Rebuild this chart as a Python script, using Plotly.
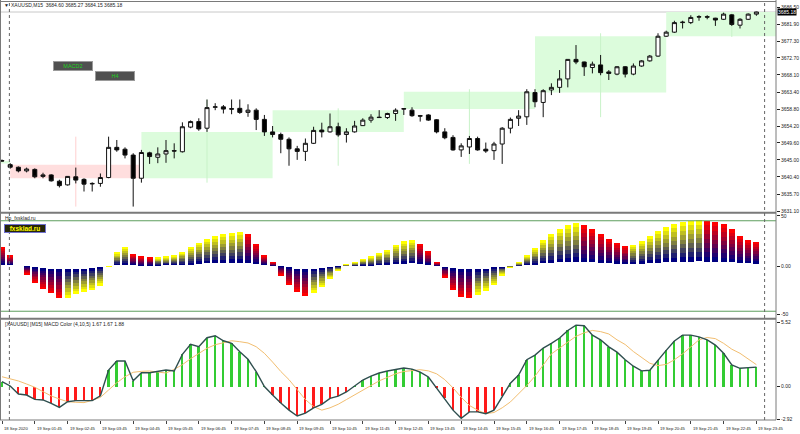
import plotly.graph_objects as go

# ---------------- data ----------------
opens = [3644.8, 3643.7, 3643.0, 3642.0, 3642.4, 3640.5, 3640.9, 3639.2, 3638.2, 3640.4,
         3639.7, 3638.6, 3638.6, 3640.2, 3648.4, 3647.9, 3646.3, 3640.0, 3646.9, 3645.7,
         3646.6, 3647.5, 3647.2, 3653.9, 3655.4, 3653.6, 3659.3, 3659.4, 3658.9, 3659.0,
         3657.9, 3658.5, 3656.0, 3652.6, 3651.9, 3650.6, 3648.0, 3647.3, 3649.5, 3653.1,
         3652.6, 3654.0, 3651.9, 3652.6, 3654.3, 3655.8, 3656.6, 3656.5, 3657.6, 3658.8,
         3658.5, 3657.0, 3657.2, 3655.9, 3652.6, 3651.1, 3647.7, 3648.5, 3650.8, 3647.9,
         3647.5, 3649.3, 3653.6, 3656.3, 3656.7, 3663.3, 3660.6, 3664.0, 3664.7, 3667.0,
         3672.3, 3671.6, 3670.1, 3670.8, 3668.9, 3668.3, 3670.3, 3668.3, 3670.5, 3671.9,
         3673.2, 3678.6, 3679.7, 3682.3, 3682.3, 3683.8, 3683.9, 3683.5, 3683.2, 3684.4,
         3681.6, 3683.2, 3684.60]
highs = [3645.1, 3644.1, 3643.2, 3642.9, 3642.7, 3641.5, 3641.1, 3639.6, 3640.6, 3642.9,
         3640.0, 3638.9, 3641.3, 3651.3, 3650.4, 3648.4, 3646.8, 3647.7, 3647.2, 3648.4,
         3650.4, 3649.5, 3655.2, 3655.7, 3656.3, 3661.4, 3660.4, 3659.9, 3661.4, 3661.4,
         3660.1, 3659.0, 3657.2, 3654.2, 3652.4, 3651.1, 3648.8, 3650.8, 3654.0, 3655.1,
         3657.6, 3655.1, 3653.6, 3655.6, 3656.3, 3657.4, 3658.5, 3657.8, 3659.0, 3659.0,
         3659.3, 3657.2, 3657.4, 3656.1, 3653.6, 3651.7, 3649.5, 3651.5, 3651.3, 3649.7,
         3649.9, 3653.9, 3656.5, 3658.5, 3664.2, 3664.2, 3664.2, 3665.8, 3669.4, 3672.4,
         3676.2, 3671.7, 3671.7, 3673.5, 3669.4, 3670.5, 3670.5, 3671.2, 3672.1, 3673.5,
         3679.4, 3680.1, 3682.8, 3682.8, 3684.3, 3684.3, 3684.3, 3683.6, 3685.0, 3684.6,
         3683.5, 3684.8, 3685.27]
lows = [3644.5, 3642.6, 3641.6, 3641.6, 3640.0, 3640.0, 3639.1, 3637.5, 3638.0, 3638.6,
        3636.4, 3636.4, 3637.7, 3640.0, 3647.2, 3645.4, 3632.3, 3638.8, 3643.9, 3644.1,
        3644.2, 3645.4, 3647.0, 3653.6, 3652.9, 3652.6, 3658.5, 3657.6, 3657.4, 3657.5,
        3656.7, 3653.1, 3651.5, 3651.1, 3646.8, 3643.4, 3645.0, 3644.7, 3649.3, 3651.1,
        3652.4, 3651.3, 3649.7, 3652.4, 3654.2, 3655.1, 3656.4, 3656.1, 3655.6, 3657.2,
        3656.7, 3655.4, 3655.6, 3652.2, 3650.6, 3647.5, 3645.8, 3646.6, 3647.5, 3646.9,
        3645.0, 3643.9, 3652.2, 3654.2, 3654.5, 3659.3, 3656.6, 3662.6, 3663.2, 3664.7,
        3671.0, 3667.8, 3668.5, 3668.0, 3666.7, 3668.0, 3667.4, 3668.0, 3670.3, 3671.7,
        3673.0, 3678.4, 3679.5, 3680.7, 3681.9, 3682.8, 3683.2, 3681.4, 3683.0, 3681.4,
        3680.7, 3683.0, 3684.15]
closes = [3644.7, 3643.0, 3642.0, 3642.5, 3640.4, 3640.9, 3639.3, 3638.0, 3640.5, 3639.5,
          3638.4, 3638.5, 3640.2, 3648.4, 3647.7, 3646.3, 3640.0, 3647.0, 3645.9, 3646.6,
          3647.5, 3647.4, 3654.0, 3655.4, 3653.4, 3659.2, 3659.4, 3658.8, 3658.8, 3657.9,
          3658.5, 3656.0, 3652.6, 3651.9, 3650.6, 3648.0, 3647.3, 3649.5, 3653.0, 3652.6,
          3654.0, 3651.8, 3652.6, 3654.2, 3655.8, 3656.6, 3656.5, 3657.6, 3658.5, 3658.9,
          3657.0, 3656.9, 3655.8, 3652.6, 3651.0, 3647.7, 3648.8, 3650.8, 3647.7, 3647.4,
          3649.3, 3653.6, 3656.0, 3656.9, 3663.5, 3660.8, 3663.8, 3664.7, 3667.0, 3672.3,
          3671.6, 3670.3, 3671.0, 3668.7, 3668.5, 3670.3, 3668.3, 3670.5, 3671.9, 3673.2,
          3678.6, 3679.7, 3682.3, 3682.4, 3683.7, 3683.9, 3683.8, 3683.0, 3684.6, 3681.8,
          3683.2, 3684.6, 3685.18]
prev_h4_open = 3644.0  # open of the H4 candle ending at the first visible bar

# Hp_fxsklad histogram (separate window, scale -50..50)
hp_vals = [18.3, 10.6, 0.0, -7.7, -16.1, -22.1, -26.3, -31.1, -30.8, -27.2,
           -24.7, -23.1, -18.9, -0.8, 13.2, 18.6, 11.5, 8.9, 8.0, 8.2,
           9.6, 10.6, 13.8, 18.6, 22.4, 26.0, 28.8, 30.8, 31.7, 32.7,
           30.8, 21.0, 10.6, 3.8, -8.7, -18.3, -25.0, -28.8, -26.0, -20.0,
           -12.5, -4.8, 1.9, 3.8, 6.7, 8.7, 12.5, 15.4, 20.2, 24.0,
           25.0, 21.0, 14.4, 3.8, -11.5, -23.0, -29.8, -30.8, -27.9, -24.0,
           -18.3, -9.6, -1.9, 3.8, 10.6, 17.3, 25.0, 30.8, 35.6, 39.4,
           41.3, 39.4, 35.6, 30.8, 26.0, 22.1, 19.2, 20.2, 24.0, 28.8,
           33.7, 37.5, 40.4, 42.3, 43.3, 44.2, 43.3, 42.3, 40.4, 35.6,
           29.1, 25.0, 23.4]
hp_levels = [43.5, -43.5]

# MACD Color (4,10,5)
macd_vals = [0.43, 0.06, -0.62, -0.71, -1.08, -1.13, -1.42, -1.76, -1.28, -1.19,
             -1.19, -1.19, -0.77, 1.42, 2.19, 2.19, 0.51, 1.19, 1.19, 1.28,
             1.42, 1.34, 2.76, 3.62, 3.41, 4.18, 4.35, 3.92, 3.70, 2.99,
             2.34, 1.28, 0.02, -0.70, -1.40, -2.00, -2.50, -2.25, -1.80, -1.50,
             -1.00, -0.80, -0.45, 0.06, 0.57, 0.90, 1.17, 1.34, 1.50, 1.60,
             1.50, 1.25, 0.83, -0.10, -1.00, -2.00, -2.70, -2.15, -2.15, -2.30,
             -2.00, -0.80, 0.30, 1.00, 2.30, 2.70, 3.30, 3.70, 4.15, 4.80,
             5.25, 5.20, 4.40, 4.00, 3.40, 2.95, 2.30, 1.75, 1.35, 1.40,
             2.30, 3.10, 3.90, 4.40, 4.40, 4.25, 4.00, 3.55, 2.85, 1.85,
             1.57, 1.62, 1.67]
signal_vals = [0.85, 0.66, 0.49, 0.23, -0.05, -0.42, -0.79, -1.05, -1.28, -1.33,
               -1.36, -1.16, -0.91, -0.28, 0.34, 0.85, 1.23, 1.31, 1.34, 1.25,
               1.17, 1.48, 1.88, 2.39, 2.82, 3.28, 3.58, 3.75, 3.92, 3.84,
               3.73, 3.41, 2.85, 2.10, 1.30, 0.60, -0.30, -1.10, -1.70, -2.00,
               -1.80, -1.50, -1.10, -0.70, -0.30, 0.05, 0.50, 0.80, 1.10, 1.30,
               1.40, 1.45, 1.35, 1.10, 0.60, -0.10, -0.90, -1.60, -2.00, -2.30,
               -2.20, -1.80, -1.30, -0.60, 0.10, 0.90, 1.90, 2.80, 3.30, 3.80,
               4.30, 4.60, 4.80, 4.70, 4.50, 4.00, 3.60, 3.00, 2.50, 2.00,
               1.80, 1.90, 2.30, 2.80, 3.40, 4.00, 4.20, 4.10, 3.70, 3.20,
               2.85, 2.35, 1.88]

time_labels = ["18 Sep 2020", "19 Sep 01:45", "19 Sep 02:45", "19 Sep 03:45", "19 Sep 04:45",
               "19 Sep 05:45", "19 Sep 06:45", "19 Sep 07:45", "19 Sep 08:45", "19 Sep 09:45",
               "19 Sep 10:45", "19 Sep 11:45", "19 Sep 12:45", "19 Sep 13:45", "19 Sep 14:45",
               "19 Sep 15:45", "19 Sep 16:45", "19 Sep 17:45", "19 Sep 18:45", "19 Sep 19:45",
               "19 Sep 20:45", "19 Sep 21:45", "19 Sep 22:45", "19 Sep 23:45"]
price_ticks = [3686.50, 3681.90, 3677.30, 3672.70, 3668.10, 3663.40, 3658.80,
               3654.20, 3649.60, 3645.00, 3640.40, 3635.70, 3631.10]

title_text = "XAUUSD,M15  3684.60 3685.27 3684.15 3685.18"
macd_title = "[XAUUSD] [M15] MACD Color (4,10,5) 1.67 1.67 1.88"

# ---------------- geometry helpers ----------------
W, H = 800, 434
PLOT_W, PLOT_H = 776, 420
n = len(closes)
idx = list(range(n))
XR = [-0.244, 94.39]


def py(p):
    return (PLOT_H - p) / PLOT_H


def px(p):
    return p / PLOT_W


FONT = "Liberation Sans"
fig = go.Figure()

# ---------------- main panel: candles ----------------
fig.add_trace(go.Candlestick(
    x=idx, open=opens, high=highs, low=lows, close=closes,
    increasing=dict(fillcolor="white", line=dict(color="#111111", width=1)),
    decreasing=dict(fillcolor="black", line=dict(color="#111111", width=1)),
    whiskerwidth=0, xaxis="x", yaxis="y", showlegend=False, hoverinfo="skip"))

shapes = []
# H4 candles as rectangles
groups = [(-15, 0, prev_h4_open, None, None, closes[0])]
start = 1
while start < n:
    end = min(start + 15, n - 1)
    seg = range(start, end + 1)
    groups.append((start, end, opens[start], max(highs[s] for s in seg),
                   min(lows[s] for s in seg), closes[end]))
    start += 16
for (s, e, o, h, l, c) in groups:
    bull = c >= o
    fill = "#DCFCDC" if bull else "#FFDEDE"
    wick = "#C8F2C8" if bull else "#FFCFCF"
    shapes.append(dict(type="rect", xref="x", yref="y", x0=s, x1=s + 16,
                       y0=min(o, c), y1=max(o, c), fillcolor=fill,
                       line=dict(width=0), layer="below"))
    if h is not None:
        shapes.append(dict(type="line", xref="x", yref="y", x0=s + 8, x1=s + 8,
                           y0=l, y1=h, line=dict(color=wick, width=1), layer="below"))

# bid line
shapes.append(dict(type="line", xref="paper", yref="y", x0=0, x1=1,
                   y0=closes[-1], y1=closes[-1], line=dict(color="#C8C8C8", width=1),
                   layer="below"))

# ---------------- middle panel: gradient histogram ----------------
N = 10
navy = (0, 0, 128)
ends = []
for i, v in enumerate(hp_vals):
    rising = i > 0 and v > hp_vals[i - 1]
    ends.append((255, 255, 0) if rising else (255, 0, 0))
for k in range(1, N):
    t = (k - 1) / (N - 2)
    cols = []
    for e in ends:
        r = round(navy[0] + (e[0] - navy[0]) * t)
        g = round(navy[1] + (e[1] - navy[1]) * t)
        b = round(navy[2] + (e[2] - navy[2]) * t)
        cols.append(f"rgb({r},{g},{b})")
    fig.add_trace(go.Bar(
        x=idx, y=[v / N for v in hp_vals], base=[v * k / N for v in hp_vals],
        width=0.72, marker=dict(color=cols, line=dict(width=0)),
        xaxis="x", yaxis="y2", showlegend=False, hoverinfo="skip"))
for lv in hp_levels:
    shapes.append(dict(type="line", xref="paper", yref="y2", x0=0, x1=1,
                       y0=lv, y1=lv, line=dict(color="#5E9E5E", width=1)))

# ---------------- bottom panel: MACD ----------------
fig.add_trace(go.Bar(
    x=idx, y=macd_vals, width=0.24,
    marker=dict(color=["#33CC33" if v >= 0 else "#FF1A1A" for v in macd_vals],
                line=dict(width=0)),
    xaxis="x", yaxis="y3", showlegend=False, hoverinfo="skip"))
fig.add_trace(go.Scatter(
    x=idx, y=signal_vals, mode="lines", line=dict(color="#F2BE70", width=1),
    xaxis="x", yaxis="y3", showlegend=False, hoverinfo="skip"))
fig.add_trace(go.Scatter(
    x=idx, y=macd_vals, mode="lines", line=dict(color="#2F4F4F", width=1.4),
    xaxis="x", yaxis="y3", showlegend=False, hoverinfo="skip"))

# ---------------- frame lines ----------------
grey = "#7A7A7A"
for yy, wdt in [(1.5, 1), (212.8, 2), (318.8, 2), (420, 1)]:
    shapes.append(dict(type="line", xref="paper", yref="paper", x0=0, x1=1,
                       y0=py(yy), y1=py(yy), line=dict(color=grey, width=wdt)))
shapes.append(dict(type="line", xref="paper", yref="paper", x0=px(0.5), x1=px(0.5),
                   y0=py(0), y1=py(420), line=dict(color=grey, width=1)))
shapes.append(dict(type="line", xref="paper", yref="paper", x0=1, x1=1,
                   y0=py(0), y1=py(420), line=dict(color=grey, width=1)))
# dotted vertical lines
for xv in [0.9, 93.0]:
    shapes.append(dict(type="line", xref="x", yref="paper", x0=xv, x1=xv,
                       y0=py(420), y1=py(0), line=dict(color="#666666", width=1, dash="dot")))

# ---------------- annotations ----------------
ann = []
small = dict(family=FONT, size=5, color="#222222")


def note(text, x, y, font, xanchor="left", **kw):
    d = dict(text=text, x=x, y=y, xref="paper", yref="paper", xanchor=xanchor,
             yanchor="middle", showarrow=False, font=font)
    d.update(kw)
    ann.append(d)


note("▼", px(1.5), py(5.5), dict(family=FONT, size=5, color="#222"))
note(title_text, px(9), py(5.5), small)
btn = dict(width=38, height=8, bgcolor="#505050", bordercolor="#9A9A9A",
           borderwidth=1, borderpad=0)
note("MACD2", px(73), py(66), dict(family=FONT, size=5.5, color="#1ED21E"),
     xanchor="center", **btn)
note("H4", px(114.5), py(76), dict(family=FONT, size=5.5, color="#1ED21E"),
     xanchor="center", **btn)
note("Hp_fxsklad.ru", px(3), py(218), small)
note("<b>fxsklad.ru</b>", px(25), py(228.5), dict(family=FONT, size=6.5, color="#FFFF00"),
     xanchor="center", width=40, height=7, bgcolor="#26260A", bordercolor="#7070D0",
     borderwidth=1, borderpad=0)
note(macd_title, px(3), py(324), small)
# current price badge
ann.append(dict(text=f"{closes[-1]:.2f}", x=1, y=closes[-1], xref="paper", yref="y",
                xanchor="left", yanchor="middle", xshift=1, showarrow=False,
                bgcolor="#000000", borderpad=0,
                font=dict(family=FONT, size=5, color="#FFFFFF")))
# time labels
for j, lab in enumerate(time_labels):
    ann.append(dict(text=lab, x=j * 4, y=py(428), xref="x", yref="paper",
                    xanchor="left", yanchor="middle", showarrow=False,
                    font=dict(family=FONT, size=4.2, color="#222222")))

axis_common = dict(showgrid=False, zeroline=False, side="right", anchor="x",
                   ticks="outside", ticklen=3, tickcolor="#222", tickwidth=1,
                   tickfont=dict(family=FONT, size=5, color="#222222"),
                   showline=False, fixedrange=True)

fig.update_layout(
    width=W, height=H, margin=dict(l=0, r=24, t=0, b=14, autoexpand=False),
    paper_bgcolor="white", plot_bgcolor="white", barmode="overlay", bargap=0,
    showlegend=False, shapes=shapes, annotations=ann,
    xaxis=dict(domain=[0, 1], range=XR, anchor="y3", showgrid=False, zeroline=False,
               showticklabels=False, ticks="outside", ticklen=3, tickcolor="#444",
               tickvals=[j * 4 for j in range(len(time_labels))],
               rangeslider=dict(visible=False), showline=False, fixedrange=True),
    yaxis=dict(domain=[py(212), py(1)], range=[3630.83, 3688.17],
               tickvals=price_ticks, ticktext=[f"{v:.2f}" for v in price_ticks],
               **axis_common),
    yaxis2=dict(domain=[py(318), py(214)], range=[-50, 50],
                tickvals=[48.1, 0, -46.2], ticktext=["50", "0.00", "-50"], **axis_common),
    yaxis3=dict(domain=[py(420), py(320)], range=[-2.841, 5.691],
                tickvals=[5.52, 0, -2.78], ticktext=["5.52", "0.00", "-2.92"], **axis_common),
)

fig.write_html("out.html", config={"displayModeBar": False},
               post_script="document.body.style.margin='0';document.body.style.overflow='hidden';")
